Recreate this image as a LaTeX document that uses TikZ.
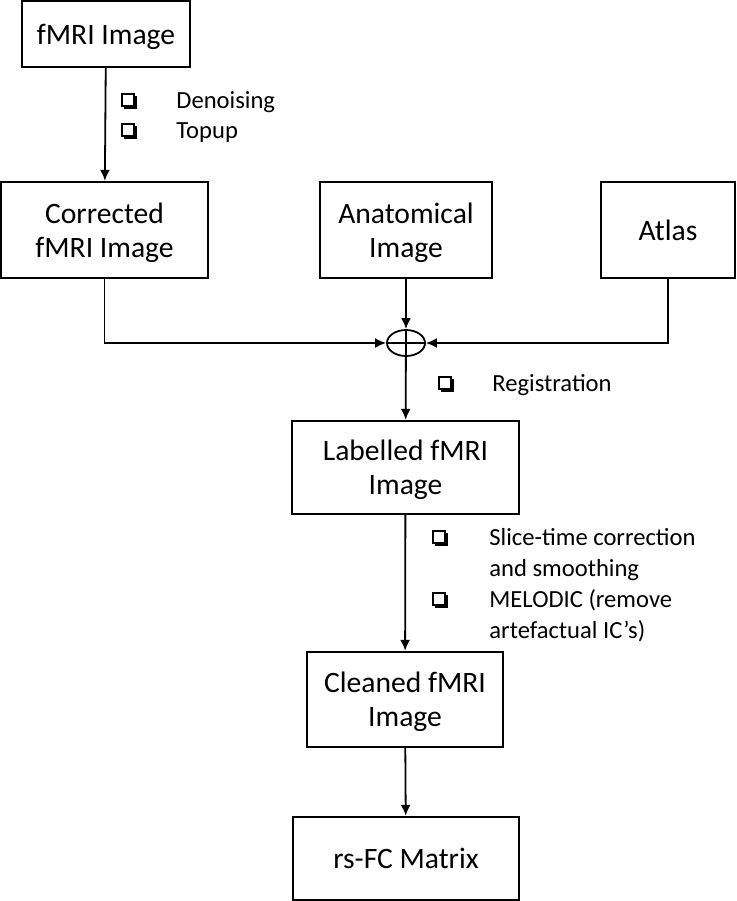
\documentclass[tikz,border=0pt]{standalone}
\usepackage{fontspec}
\setmainfont{Carlito}
\usetikzlibrary{arrows.meta, positioning, shapes.geometric}

\tikzset{
  stage/.style={draw, line width=1.2pt, align=center, inner sep=0pt,
    font=\fontsize{14.8}{17}\selectfont, text depth=0pt},
  note/.style={anchor=base west, inner sep=0pt, align=left,
    font=\fontsize{12.3}{15.5}\selectfont},
  flow/.style={-{Latex[length=5.5pt,width=5pt]}, line width=0.9pt},
  chkbox/.pic={
    \draw[line width=0.7pt, fill=white] (-6,-6) rectangle (6,6);
    \fill (-4,6) rectangle (8.5,8.5);
    \fill (6,-4) rectangle (8.5,8.5);
  }
}

\begin{document}
\begin{tikzpicture}[x=0.5pt, y=-0.5pt]
    \useasboundingbox (0,0) rectangle (737,901);

    % stages
    \node[stage, minimum width=84pt, minimum height=33pt] (raw) at (106,34) {fMRI Image};
    \node[stage, minimum width=103.5pt, minimum height=48pt] (corr) at (104.5,230) {Corrected\\fMRI Image};
    \node[stage, minimum width=86pt, minimum height=48pt] (anat) at (406,230) {Anatomical\\Image};
    \node[stage, minimum width=67pt, minimum height=48pt] (atlas) at (668,230) {Atlas};
    \node[ellipse, draw, line width=0.9pt, minimum width=19pt, minimum height=13pt, inner sep=0pt] (sum) at (406,343) {};
    \node[stage, minimum width=113.5pt, minimum height=46.5pt] (lab) at (405.5,467.5) {Labelled fMRI\\Image};
    \node[stage, minimum width=98pt, minimum height=47.5pt] (clean) at (405,699.5) {Cleaned fMRI\\Image};
    \node[stage, minimum width=113pt, minimum height=41.5pt] (fc) at (406,858.5) {rs-FC Matrix};

    % connectors
    \draw[flow] (raw) -- (corr);
    \draw[flow] (corr.south) |- (sum.west);
    \draw[flow] (atlas.south) |- (sum.east);
    \draw[flow] (anat) -- (sum);
    \draw[line width=0.9pt] (sum.west) -- (sum.east);
    \draw[flow] (sum.north) -- (lab);
    \draw[flow] (lab) -- (clean);
    \draw[flow] (clean) -- (fc);

    % processing notes
    \pic at (128,100) {chkbox};
    \pic at (128,130) {chkbox};
    \node[note] (n1) at (176,108) {Denoising};
    \node[note] (n2) at (176,138) {Topup};

    \pic at (445,383) {chkbox};
    \node[note] (n3) at (492,391) {Registration};

    \pic at (439,537) {chkbox};
    \pic at (439,599) {chkbox};
    \node[note] (n4) at (489,576) {Slice-time correction\\and smoothing};
    \node[note] (n5) at (489,638) {MELODIC (remove\\artefactual IC’s)};
\end{tikzpicture}
\end{document}
